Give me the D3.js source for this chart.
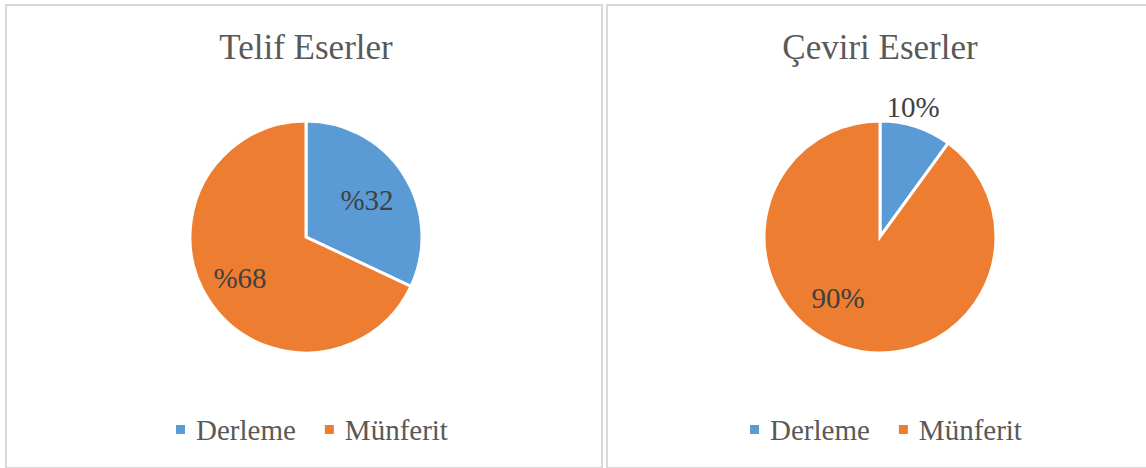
<!DOCTYPE html>
<html>
<head>
<meta charset="utf-8">
<script src="https://cdn.jsdelivr.net/npm/d3@7"></script>
<style>
  html, body { margin: 0; padding: 0; background: #fff; }
  svg { display: block; font-family: "Liberation Serif", "Times New Roman", serif; }
</style>
</head>
<body>
<svg id="chart" width="1146" height="468"></svg>
<script>
// series / categories
const categories = ["Derleme", "Münferit"];
const chartTitles = ["Telif Eserler", "Çeviri Eserler"];
const telifValues = [32, 68];
const ceviriValues = [10, 90];
const telifLabels = ["%32", "%68"];
const ceviriLabels = ["10%", "90%"];

const colors = ["#5b9bd5", "#ed7d31"];

const svg = d3.select("#chart");

// panels: frame x, width, pie center
const panels = [
  { x: 6, w: 598, cx: 306, values: telifValues, labels: telifLabels, title: chartTitles[0],
    labelPos: [[367, 200], [240, 278]], legendX: 176 },
  { x: 607, w: 560, cx: 880, values: ceviriValues, labels: ceviriLabels, title: chartTitles[1],
    labelPos: [[913, 107], [838, 298]], legendX: 750 }
];

const radius = 116;
const cy = 237;

const pie = d3.pie().sort(null).value(d => d);
const arc = d3.arc().innerRadius(0).outerRadius(radius);

panels.forEach(p => {
  // frame
  svg.append("rect")
    .attr("x", p.x)
    .attr("y", 5)
    .attr("width", p.w - 2)
    .attr("height", 463)
    .attr("fill", "#fff")
    .attr("stroke", "#d9d9d9")
    .attr("stroke-width", 2);

  svg.append("text")
    .attr("x", p.cx)
    .attr("y", 59)
    .attr("text-anchor", "middle")
    .attr("fill", "#595959")
    .style("font-size", "35px")
    .text(p.title);

  const g = svg.append("g").attr("transform", `translate(${p.cx},${cy})`);
  g.selectAll("path")
    .data(pie(p.values))
    .join("path")
    .attr("d", arc)
    .attr("fill", (d, i) => colors[i])
    .attr("stroke", "#fff")
    .attr("stroke-width", 3)
    .attr("stroke-linejoin", "miter");

  // data labels
  p.labels.forEach((t, i) => {
    svg.append("text")
      .attr("x", p.labelPos[i][0])
      .attr("y", p.labelPos[i][1])
      .attr("text-anchor", "middle")
      .attr("dominant-baseline", "central")
      .attr("fill", "#404040")
      .style("font-size", "29px")
      .text(t);
  });

  // legend
  const lg = svg.append("g").attr("transform", `translate(${p.legendX},430)`);
  let xOff = 0;
  categories.forEach((c, i) => {
    lg.append("rect")
      .attr("x", xOff)
      .attr("y", -5)
      .attr("width", 9)
      .attr("height", 9)
      .attr("fill", colors[i]);
    const txt = lg.append("text")
      .attr("x", xOff + 20)
      .attr("y", 0)
      .attr("dominant-baseline", "central")
      .attr("fill", "#595959")
      .style("font-size", "29px")
      .text(c);
    xOff += 20 + txt.node().getComputedTextLength() + 29;
  });
});
</script>
</body>
</html>
